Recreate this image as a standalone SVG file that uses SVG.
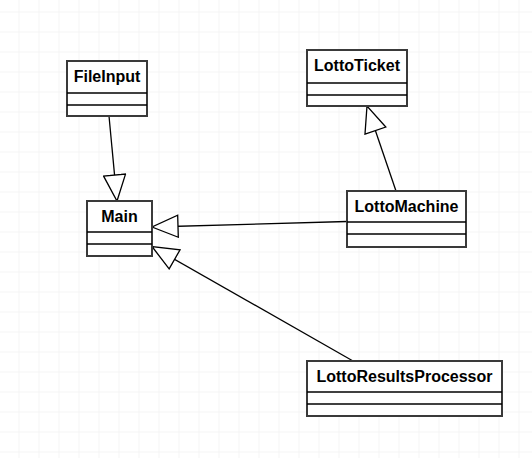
<svg xmlns="http://www.w3.org/2000/svg" width="532" height="458" viewBox="0 0 532 458">
<defs>
<pattern id="grid" x="18.5" y="11.5" width="20" height="20" patternUnits="userSpaceOnUse">
<path d="M0,0 H20 M0,0 V20" fill="none" stroke="#ebebeb" stroke-width="1"/>
</pattern>
<marker id="inh" markerUnits="userSpaceOnUse" markerWidth="28" markerHeight="24" refX="26" refY="11.5" orient="auto" viewBox="-1 0 28 23">
<path d="M0,0.5 L26,11.5 L0,22.5 Z" fill="#ffffff" stroke="#000000" stroke-width="1.3" stroke-linejoin="miter"/>
</marker>
</defs>
<style>
.box{fill:#ffffff;stroke:#3a3a3a;stroke-width:2}
.sep{stroke:#000000;stroke-width:1.3}
.lbl{font-family:"Liberation Sans",Arial,Helvetica,sans-serif;font-size:16px;font-weight:bold;fill:#000000;text-anchor:middle}
.edge{fill:none;stroke:#000000;stroke-width:1.3;marker-end:url(#inh)}
</style>
<rect width="532" height="458" fill="#ffffff"/>
<rect width="532" height="458" fill="url(#grid)"/>
<g id="connectors">
<line class="edge" x1="109" y1="116" x2="117" y2="201"/>
<line class="edge" x1="347" y1="221.5" x2="152" y2="227"/>
<line class="edge" x1="353" y1="361" x2="152" y2="246.5"/>
<line class="edge" x1="396" y1="191" x2="367" y2="106"/>
</g>
<g id="FileInput">
<rect class="box" x="67" y="61" width="80" height="55"/>
<line class="sep" x1="67" y1="93" x2="147" y2="93"/>
<line class="sep" x1="67" y1="105" x2="147" y2="105"/>
<text class="lbl" x="107" y="81.7">FileInput</text>
</g>
<g id="Main">
<rect class="box" x="87" y="201" width="65" height="55"/>
<line class="sep" x1="87" y1="232" x2="152" y2="232"/>
<line class="sep" x1="87" y1="244" x2="152" y2="244"/>
<text class="lbl" x="119.5" y="221.7">Main</text>
</g>
<g id="LottoTicket">
<rect class="box" x="307" y="50" width="100" height="56"/>
<line class="sep" x1="307" y1="83" x2="407" y2="83"/>
<line class="sep" x1="307" y1="95" x2="407" y2="95"/>
<text class="lbl" x="357" y="70.7">LottoTicket</text>
</g>
<g id="LottoMachine">
<rect class="box" x="347" y="191" width="119" height="56"/>
<line class="sep" x1="347" y1="222" x2="466" y2="222"/>
<line class="sep" x1="347" y1="234" x2="466" y2="234"/>
<text class="lbl" x="406.5" y="211.7">LottoMachine</text>
</g>
<g id="LottoResultsProcessor">
<rect class="box" x="307" y="361" width="195" height="55"/>
<line class="sep" x1="307" y1="392" x2="502" y2="392"/>
<line class="sep" x1="307" y1="404" x2="502" y2="404"/>
<text class="lbl" x="404.5" y="381.7">LottoResultsProcessor</text>
</g>
</svg>
